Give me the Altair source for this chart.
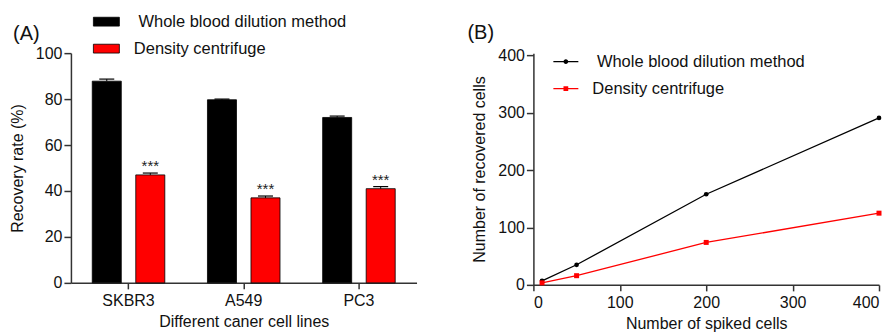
import altair as alt
import pandas as pd

FONT = "Liberation Sans"

# ---- Panel A data ----
cell_lines = ["SKBR3", "A549", "PC3"]
methods = ["Whole blood dilution method", "Density centrifuge"]
whole_blood_rate = [87.8, 79.7, 72.0]
whole_blood_err = [0.9, 0.3, 0.6]
density_rate = [47.0, 37.0, 41.0]
density_err = [0.8, 0.8, 0.9]
significance = ["***", "***", "***"]

# ---- Panel B data ----
spiked = [10, 50, 200, 400]
whole_blood_recovered = [7, 35, 158, 291]
density_recovered = [3.5, 16, 74, 125]

panel_labels = ["(A)", "(B)"]
colors = ["#000000", "#ff0000"]

rows_a = []
for i, cl in enumerate(cell_lines):
    rows_a.append(dict(line=cl, method=methods[0], rate=whole_blood_rate[i],
                       top=whole_blood_rate[i] + whole_blood_err[i], sig=""))
    rows_a.append(dict(line=cl, method=methods[1], rate=density_rate[i],
                       top=density_rate[i] + density_err[i], sig=significance[i]))
df_a = pd.DataFrame(rows_a)

rows_b = []
for i, s in enumerate(spiked):
    rows_b.append(dict(spiked=s, method=methods[0], recovered=whole_blood_recovered[i]))
for i, s in enumerate(spiked):
    rows_b.append(dict(spiked=s, method=methods[1], recovered=density_recovered[i]))
df_b = pd.DataFrame(rows_b)

# the original legend has one leading space before the first entry
label_expr = "datum.value == '%s' ? '\u200b\u00a0' + datum.label : datum.label" % methods[0]

color_scale = alt.Scale(domain=methods, range=colors)


def panel_label(text, dx, dy):
    return alt.Chart(pd.DataFrame({"label": [text]})).mark_text(
        align="left", baseline="alphabetic", fontSize=20, font=FONT, color="#111"
    ).encode(x=alt.value(dx), y=alt.value(dy), text="label:N")


# ---------------- Panel A ----------------
xa = alt.X("line:N", sort=cell_lines,
           scale=alt.Scale(paddingInner=0, paddingOuter=0),
           axis=alt.Axis(title="Different caner cell lines", labelAngle=0,
                         tickSize=6, labelPadding=4, titlePadding=5))
xoff = alt.XOffset("method:N", sort=methods,
                   scale=alt.Scale(domain=methods, paddingInner=0.333, paddingOuter=0.49))
ya = alt.Y("rate:Q", scale=alt.Scale(domain=[0, 100], nice=False),
           axis=alt.Axis(title="Recovery rate (%)", values=[0, 20, 40, 60, 80, 100],
                         tickSize=7, labelPadding=2, titlePadding=10))

base_a = alt.Chart(df_a).encode(x=xa, xOffset=xoff)

bars = base_a.mark_bar(stroke="#000", strokeWidth=0.8).encode(
    y=ya,
    color=alt.Color("method:N", scale=color_scale,
                    legend=alt.Legend(title=None, orient="none", legendX=22, legendY=-45,
                                      symbolType="M-1,-0.34H1V0.34H-1Z", symbolSize=676,
                                      symbolStrokeColor="#000", symbolStrokeWidth=0.8,
                                      labelFont=FONT, labelFontSize=16.5, labelColor="#111",
                                      labelOffset=14, rowPadding=5, labelExpr=label_expr,
                                      labelLimit=400)),
)
err_rule = base_a.mark_rule(color="#000", strokeWidth=1).encode(y="rate:Q", y2="top:Q")
caps = base_a.mark_tick(color="#000", size=15, thickness=1.2, opacity=1).encode(y="top:Q")
stars = base_a.transform_filter("datum.sig != ''").mark_text(
    baseline="alphabetic", dy=-2, fontSize=15, font=FONT, color="#222"
).encode(y="top:Q", text="sig:N")

panel_a = alt.layer(bars, err_rule, caps, stars,
                    panel_label(panel_labels[0], -58, -13)).properties(width=346, height=230)

# ---------------- Panel B ----------------
xb = alt.X("spiked:Q", scale=alt.Scale(domain=[0, 400], nice=False),
           axis=alt.Axis(title="Number of spiked cells", values=[0, 100, 200, 300, 400],
                         tickSize=6, labelPadding=4, titlePadding=5))
yb = alt.Y("recovered:Q", scale=alt.Scale(domain=[0, 404], nice=False),
           axis=alt.Axis(title="Number of recovered cells", values=[0, 100, 200, 300, 400],
                         tickSize=7, labelPadding=2, titlePadding=10))

line_black = alt.Chart(df_b).transform_filter(alt.datum.method == methods[0]).mark_line(
    strokeWidth=1.3, color=colors[0]).encode(x=xb, y=yb)
line_red = alt.Chart(df_b).transform_filter(alt.datum.method == methods[1]).mark_line(
    strokeWidth=1.3, color=colors[1]).encode(x=xb, y=yb)
pts_black = alt.Chart(df_b).transform_filter(alt.datum.method == methods[0]).mark_point(
    shape="circle", filled=True, size=22, opacity=1, color=colors[0]).encode(x=xb, y=yb)
pts_red = alt.Chart(df_b).transform_filter(alt.datum.method == methods[1]).mark_point(
    shape="square", filled=True, size=25, opacity=1, color=colors[1]).encode(x=xb, y=yb)

sym_circle = ("M-1,-0.045H1V0.045H-1Z "
              "M-0.19,0A0.19,0.19 0 1,1 0.19,0A0.19,0.19 0 1,1 -0.19,0Z")
sym_square = ("M-1,-0.045H1V0.045H-1Z "
              "M-0.19,-0.19H0.19V0.19H-0.19Z")
legend_b = dict(title=None, orient="none", legendX=20, legendY=-4,
                symbolSize=625, symbolStrokeWidth=0, labelFont=FONT, labelFontSize=16.5,
                labelColor="#111", labelOffset=14, rowPadding=6, labelExpr=label_expr,
                labelLimit=400)
legend_layer = alt.Chart(df_b).transform_filter("false").mark_point(
    filled=True, size=625, opacity=1).encode(
    x=xb, y=yb,
    color=alt.Color("method:N", scale=color_scale, legend=alt.Legend(**legend_b)),
    shape=alt.Shape("method:N", scale=alt.Scale(domain=methods, range=[sym_circle, sym_square]),
                    legend=alt.Legend(**legend_b)),
)

panel_b = alt.layer(line_black, line_red, pts_black, pts_red, legend_layer,
                    panel_label(panel_labels[1], -66, -14)).properties(width=346, height=232)

chart = alt.hconcat(panel_a, panel_b, spacing=51).resolve_scale(
    color="independent", shape="independent"
).resolve_legend(
    color="independent", shape="independent"
).properties(
    padding={"left": 1, "top": 0, "right": 0, "bottom": 0}
).configure_view(stroke=None).configure_axis(
    grid=False, domainColor="#333", domainWidth=1.5, tickColor="#333", tickWidth=1.5,
    labelFont=FONT, labelFontSize=16, labelColor="#111",
    titleFont=FONT, titleFontSize=16, titleFontWeight="normal", titleColor="#111",
)

chart.save("out.html", embed_options={"renderer": "svg", "actions": False})
